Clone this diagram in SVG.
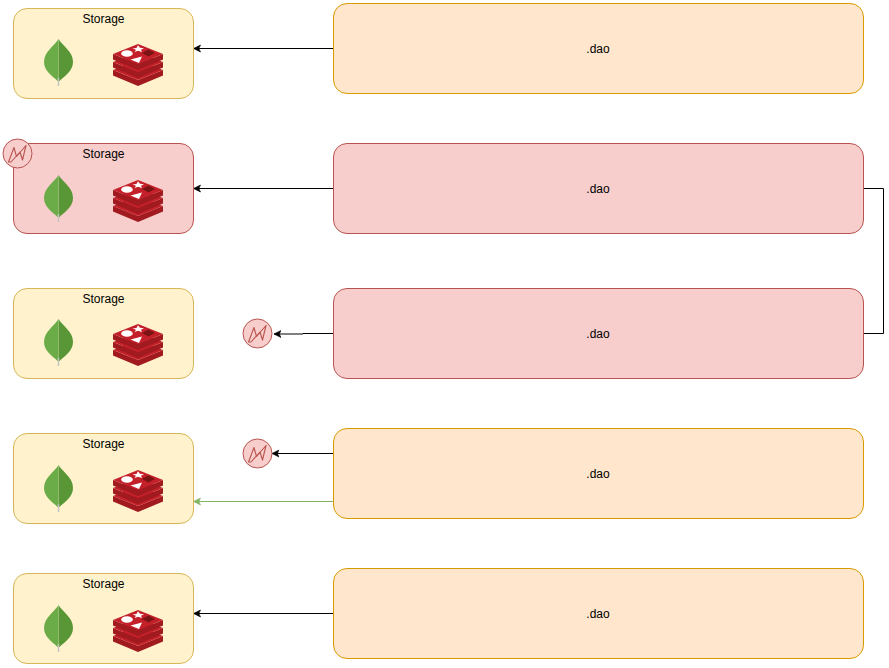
<svg xmlns="http://www.w3.org/2000/svg" xmlns:xlink="http://www.w3.org/1999/xlink" width="889" height="668" viewBox="0 0 889 668">
<style>
text{font-family:"Liberation Sans",Arial,Helvetica,sans-serif;font-size:12px;fill:#000;text-anchor:middle}
.storage{fill:#fff2cc;stroke:#d6b656}
.dao{fill:#ffe6cc;stroke:#d79b00}
.red{fill:#f8cecc;stroke:#b85450}
.conn{fill:none;stroke:#000;stroke-width:1}
.green{fill:none;stroke:#82b366;stroke-width:1}
.fault{fill:#f8cecc;stroke:#b85450}
.bolt{fill:none;stroke:#b85450;stroke-width:1.100;stroke-linejoin:round}
</style>
<defs>
<marker id="arrow" markerWidth="9" markerHeight="9" refX="7" refY="4" orient="auto" markerUnits="userSpaceOnUse"><path d="M0,4 L7,0.5 L5.3,4 L7,7.5 Z" transform="rotate(180 3.5 4)" fill="#000" stroke="#000" stroke-width="0.6"/></marker>
<marker id="arrowg" markerWidth="9" markerHeight="9" refX="7" refY="4" orient="auto" markerUnits="userSpaceOnUse"><path d="M0,4 L7,0.5 L5.3,4 L7,7.5 Z" transform="rotate(180 3.5 4)" fill="#82b366" stroke="#82b366" stroke-width="0.6"/></marker>
<g id="leaf">
<path d="M0,0 C-3,6 -14.500,12 -14.500,23 C-14.500,32 -6,37 -1,42 L0,42 Z" fill="#6cac48"/>
<path d="M0,0 C3,6 14.500,12 14.500,23 C14.500,32 6,37 1,42 L0,42 Z" fill="#589636"/>
<path d="M0,39 V47" stroke="#c4c4c4" stroke-width="1.500" fill="none"/>
<path d="M0,1 V39" stroke="#9cc47c" stroke-width="0.500" fill="none"/>
</g>
<g id="redis-layer">
<path d="M-25,10 V15.500 L0,26 L25,15.500 V10 L0,20 Z" fill="#a01a1f"/>
<path d="M0,0 L25,10 L0,20 L-25,10 Z" fill="#c4202a"/>
</g>
<g id="redis">
<use href="#redis-layer" y="16"/>
<use href="#redis-layer" y="8"/>
<use href="#redis-layer"/>
<ellipse cx="-11" cy="9.500" rx="5.800" ry="3.200" fill="#fff"/>
<path d="M-5.500,4.500 L-1.500,4 L0,1.200 L2,3.800 L6,4.200 L3,5.800 L4,8 L0,6.800 L-3.500,8 L-2,5.800 Z" fill="#fff"/>
<path d="M-7.500,15.500 L4,12.500 L1,19 Z" fill="#fff"/>
<path d="M4,9 L10.500,5.500 L17,9 L10.500,12.500 Z" fill="#7a1414"/>
</g>
<g id="fault-icon">
<circle cx="0" cy="0" r="14.500" class="fault"/>
<path class="bolt" d="M-9,8.500 L-3.500,-6 L-1,3 L8.500,-8 L5,6.500 L2.500,-1.500 L-6.500,8.500 Z"/>
</g>
</defs>
<g id="connectors">
<path class="conn" marker-end="url(#arrow)" d="M333.500,48.500 H193.500"/>
<path class="conn" marker-end="url(#arrow)" d="M333.500,188.500 H193.500"/>
<path class="conn" d="M863.500,188.500 H883.500 V333.500 H863.500"/>
<path class="conn" marker-end="url(#arrow)" d="M333.500,333.500 H303 V334 H274"/>
<path class="conn" marker-end="url(#arrow)" d="M333.500,453.500 H272"/>
<path class="green" marker-end="url(#arrowg)" d="M333.500,501.500 H193.500"/>
<path class="conn" marker-end="url(#arrow)" d="M333.500,613.500 H193.500"/>
</g>
<g id="storage1"><rect class="storage" x="13.500" y="8.500" width="180" height="90" rx="13.500"/><text x="103.500" y="23">Storage</text><use href="#leaf" x="58.500" y="39"/><use href="#redis" x="138" y="44"/></g>
<g id="storage2"><rect class="red" x="13.500" y="143.500" width="180" height="90" rx="13.500"/><text x="103.500" y="158">Storage</text><use href="#leaf" x="58.500" y="175"/><use href="#redis" x="138" y="180"/></g>
<g id="storage3"><rect class="storage" x="13.500" y="288.500" width="180" height="90" rx="13.500"/><text x="103.500" y="303">Storage</text><use href="#leaf" x="58.500" y="319"/><use href="#redis" x="138" y="324"/></g>
<g id="storage4"><rect class="storage" x="13.500" y="433.500" width="180" height="90" rx="13.500"/><text x="103.500" y="448">Storage</text><use href="#leaf" x="58.500" y="465"/><use href="#redis" x="138" y="470"/></g>
<g id="storage5"><rect class="storage" x="13.500" y="573.500" width="180" height="90" rx="13.500"/><text x="103.500" y="588">Storage</text><use href="#leaf" x="58.500" y="605"/><use href="#redis" x="138" y="610"/></g>
<g id="dao1"><rect class="dao" x="333.500" y="3.500" width="530" height="90" rx="13.500"/><text x="598" y="53">.dao</text></g>
<g id="dao2"><rect class="red" x="333.500" y="143.500" width="530" height="90" rx="13.500"/><text x="598" y="193">.dao</text></g>
<g id="dao3"><rect class="red" x="333.500" y="288.500" width="530" height="90" rx="13.500"/><text x="598" y="338">.dao</text></g>
<g id="dao4"><rect class="dao" x="333.500" y="428.500" width="530" height="90" rx="13.500"/><text x="598" y="478">.dao</text></g>
<g id="dao5"><rect class="dao" x="333.500" y="568.500" width="530" height="90" rx="13.500"/><text x="598" y="618">.dao</text></g>
<g id="fault1"><use href="#fault-icon" x="17.500" y="153.500"/></g>
<g id="fault2"><use href="#fault-icon" x="257.500" y="333.500"/></g>
<g id="fault3"><use href="#fault-icon" x="257.500" y="453.500"/></g>
</svg>
